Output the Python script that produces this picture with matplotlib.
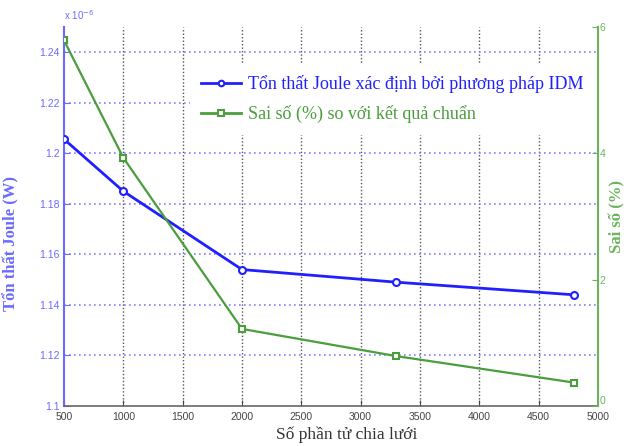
import matplotlib
matplotlib.use('Agg')
import matplotlib.pyplot as plt
from matplotlib.lines import Line2D

# số phần tử chia lưới
n_elem = [500, 1000, 2000, 3300, 4800]
# tổn thất Joule (x 1e-6 W)
joule = [1.2056, 1.185, 1.154, 1.149, 1.144]
# sai số so với kết quả chuẩn (%)
err = [5.79, 3.93, 1.22, 0.79, 0.37]

xticks = [500, 1000, 1500, 2000, 2500, 3000, 3500, 4000, 4500, 5000]
yticks = [1.1, 1.12, 1.14, 1.16, 1.18, 1.2, 1.22, 1.24]
yticks_r = [0, 2, 4, 6]

blue = '#2020ff'
blue_light = '#6a6aff'
green = '#4a9e3c'
green_light = '#6cb35c'
serif = 'Liberation Serif'
sans = 'Liberation Sans'

fig = plt.figure(figsize=(6.29, 4.46), dpi=100)
ax = fig.add_axes([0.1017, 0.0897, 0.849, 0.8498])
ax2 = ax.twinx()

ax.set_xlim(500, 5000)
ax.set_ylim(1.1, 1.25)
ax2.set_ylim(0, 6)

# lưới: dọc màu đen, ngang màu xanh
for xv in xticks[1:-1]:
    ax.axvline(xv, color='#555555', lw=1.0, ls=(0, (1, 1.5)), zorder=1)
for yv in yticks[1:]:
    ax.axhline(yv, color='#8080ff', lw=1.2, ls=(0, (1, 2)), zorder=1)

l1, = ax.plot(n_elem, joule, color=blue, lw=2, marker='o', ms=5,
              mfc='white', mec=blue, mew=1.5, zorder=4)
l2, = ax2.plot(n_elem, err, color=green, lw=1.6, marker='s', ms=5,
               mfc='white', mec=green, mew=1.5, zorder=4)

ax.set_xticks(xticks)
ax.set_yticks(yticks)
ax.set_xticklabels([str(v) for v in xticks])
ax.set_yticklabels(['1.1', '1.12', '1.14', '1.16', '1.18', '1.2', '1.22', '1.24'])
ax2.set_yticks(yticks_r)

ax.tick_params(axis='x', direction='in', length=4, colors='#444444',
               labelsize=7.5, pad=4, labelfontfamily=sans)
ax.tick_params(axis='y', direction='in', length=4, colors=blue_light,
               labelsize=7.5, pad=3, labelfontfamily=sans)
ax2.tick_params(axis='y', direction='in', length=4, colors=green_light,
                labelsize=7.5, pad=1, labelfontfamily=sans)
# nhãn "0" bên phải nhích lên một chút cho khỏi đè lên "5000"
ax2.get_yticklabels()[0].set_va('bottom')

for a in (ax, ax2):
    a.spines['top'].set_visible(False)
ax.spines['left'].set_color(blue_light)
ax.spines['left'].set_linewidth(1.5)
ax.spines['bottom'].set_color('#666666')
ax.spines['bottom'].set_linewidth(1.2)
ax.spines['right'].set_visible(False)
ax2.spines['left'].set_visible(False)
ax2.spines['bottom'].set_visible(False)
ax2.spines['right'].set_color(green_light)
ax2.spines['right'].set_linewidth(1.5)
ax2.spines['right'].set_zorder(6)

ax.text(0.0, 1.012, r'x 10$^{-6}$', transform=ax.transAxes, color=blue_light,
        fontsize=7, family=sans, ha='left', va='bottom')

ax.set_xlabel('Số phần tử chia lưới', family=serif, fontsize=12.5,
              color='#333333')
ax.xaxis.set_label_coords(0.53, -0.055)
ax.set_ylabel('Tổn thất Joule (W)', family=serif, fontsize=12,
              fontweight='bold', color=blue_light)
ax.yaxis.set_label_coords(-0.083, 0.43)
ax2.set_ylabel('Sai số (%)', family=serif, fontsize=12, fontweight='bold',
               color=green_light, labelpad=3)

h1 = Line2D([], [], color=blue, lw=2, marker='o', ms=4, mfc='white', mec=blue, mew=1.5)
h2 = Line2D([], [], color=green, lw=2, marker='s', ms=4, mfc='white', mec=green, mew=1.5)
leg = ax2.legend([h1, h2],
                 ['Tổn thất Joule xác định bởi phương pháp IDM',
                  'Sai số (%) so với kết quả chuẩn'],
                 loc='upper left', bbox_to_anchor=(0.22, 0.925),
                 frameon=True, framealpha=1, edgecolor='white', fancybox=False,
                 prop={'family': serif, 'size': 13}, handlelength=2.2,
                 handletextpad=0.4, labelspacing=0.65, borderpad=0.6)
leg.get_texts()[0].set_color(blue)
leg.get_texts()[1].set_color(green)
leg.set_zorder(3)

fig.savefig('out.png', dpi=100)
